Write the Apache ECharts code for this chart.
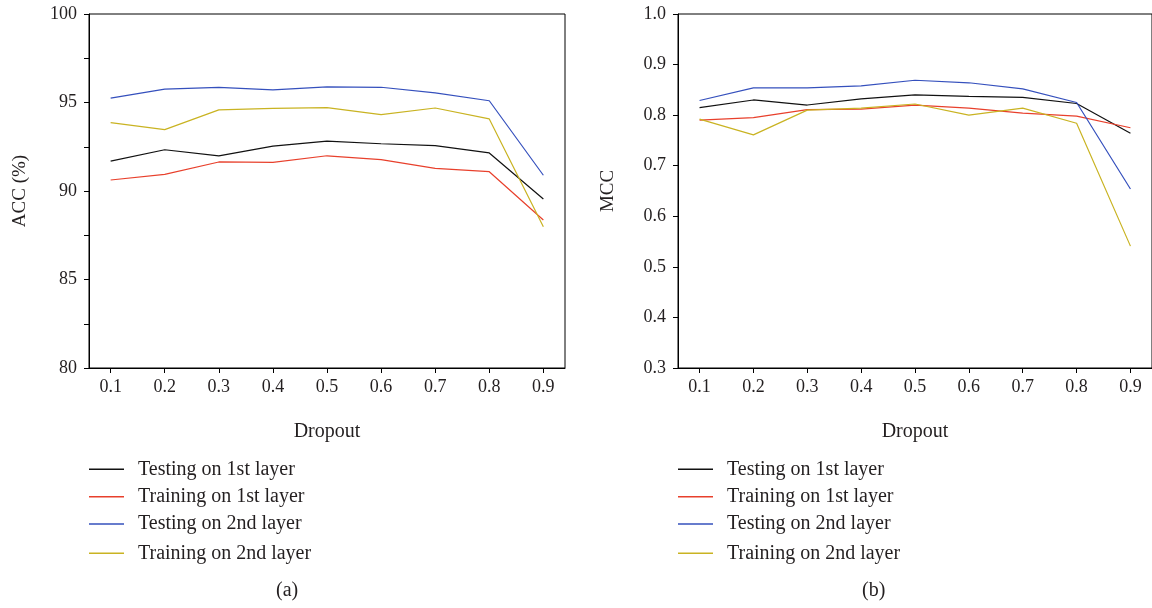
<!DOCTYPE html>
<html>
<head>
<meta charset="utf-8">
<script src="https://cdn.jsdelivr.net/npm/echarts@6/dist/echarts.min.js"></script>
<style>html,body{margin:0;padding:0;background:#fff}#c{width:1152px;height:608px}</style>
</head>
<body>
<div id="c"></div>
<script>
const dropout = [0.1, 0.2, 0.3, 0.4, 0.5, 0.6, 0.7, 0.8, 0.9];
const seriesNames = ['Testing on 1st layer', 'Training on 1st layer', 'Testing on 2nd layer', 'Training on 2nd layer'];
const accTest1 = [91.69, 92.33, 91.98, 92.54, 92.82, 92.67, 92.56, 92.15, 89.55];
const accTrain1 = [90.62, 90.94, 91.64, 91.62, 91.99, 91.77, 91.28, 91.09, 88.36];
const accTest2 = [95.25, 95.76, 95.86, 95.71, 95.88, 95.86, 95.54, 95.10, 90.89];
const accTrain2 = [93.86, 93.47, 94.58, 94.67, 94.71, 94.31, 94.69, 94.07, 87.98];
const mccTest1 = [0.815, 0.830, 0.820, 0.832, 0.840, 0.837, 0.835, 0.823, 0.764];
const mccTrain1 = [0.790, 0.795, 0.811, 0.812, 0.820, 0.814, 0.804, 0.798, 0.775];
const mccTest2 = [0.829, 0.854, 0.854, 0.858, 0.869, 0.864, 0.852, 0.825, 0.654];
const mccTrain2 = [0.792, 0.761, 0.810, 0.814, 0.822, 0.800, 0.814, 0.784, 0.541];
const accTicks = [80, 85, 90, 95, 100];
const mccTicks = [0.3, 0.4, 0.5, 0.6, 0.7, 0.8, 0.9, 1.0];

const colors = ['#111111', '#e8402c', '#3550bd', '#c9b322'];
const FONT = 'Liberation Serif';
const TXT = '#231f20';

const pairs = arr => arr.map((v, i) => [dropout[i], v]);

function xAxis(gridIndex) {
  return {
    type: 'value', gridIndex, min: 0.06, max: 0.94,
    name: 'Dropout', nameLocation: 'middle', nameGap: 54,
    nameTextStyle: { fontFamily: FONT, fontSize: 20, color: TXT },
    axisLine: { show: true, lineStyle: { color: '#000', width: 1 } },
    axisTick: { show: true, length: 5, lineStyle: { color: '#000' }, customValues: dropout },
    axisLabel: { fontFamily: FONT, fontSize: 18, color: TXT, margin: 10, customValues: dropout,
      formatter: v => Number(v).toFixed(1) },
    splitLine: { show: false }
  };
}

const legendCenters = [469.3, 496.7, 524, 553.3];
const legends = [];
[84, 673].forEach(left => {
  seriesNames.forEach((n, i) => legends.push({
    orient: 'vertical', left, top: legendCenters[i] - 15, data: [n], icon: 'rect',
    itemWidth: 35, itemHeight: 1.6, selectedMode: false,
    textStyle: { fontFamily: FONT, fontSize: 20, color: TXT, lineHeight: 20, padding: [0, 0, 0, 9] }
  }));
});

const option = {
  animation: false,
  backgroundColor: '#fff',
  grid: [
    { left: 89, top: 14, width: 476, height: 354, show: true, borderColor: '#000', borderWidth: 1 },
    { left: 678, top: 14, width: 477, height: 354, show: true, borderColor: '#000', borderWidth: 1 }
  ],
  xAxis: [xAxis(0), xAxis(1)],
  yAxis: [
    { type: 'value', gridIndex: 0, min: 80, max: 100, interval: 2.5,
      name: 'ACC (%)', nameLocation: 'middle', nameGap: 59, nameRotate: 90,
      nameTextStyle: { fontFamily: FONT, fontSize: 19, color: TXT },
      axisLine: { show: true, lineStyle: { color: '#000' } },
      axisTick: { show: true, length: 5, lineStyle: { color: '#000' } },
      axisLabel: { fontFamily: FONT, fontSize: 18, color: TXT, margin: 12,
        formatter: v => (accTicks.indexOf(Number(v)) >= 0 ? String(v) : '') },
      splitLine: { show: false } },
    { type: 'value', gridIndex: 1, min: 0.3, max: 1.0, interval: 0.1,
      name: 'MCC', nameLocation: 'middle', nameGap: 60, nameRotate: 90,
      nameTextStyle: { fontFamily: FONT, fontSize: 19, color: TXT },
      axisLine: { show: true, lineStyle: { color: '#000' } },
      axisTick: { show: true, length: 5, lineStyle: { color: '#000' } },
      axisLabel: { fontFamily: FONT, fontSize: 18, color: TXT, margin: 12,
        formatter: v => Number(v).toFixed(1) },
      splitLine: { show: false } }
  ],
  legend: legends,
  graphic: [
    { type: 'text', left: 276, top: 581, style: { text: '(a)', font: '20px "Liberation Serif"', fill: TXT } },
    { type: 'text', left: 862, top: 581, style: { text: '(b)', font: '20px "Liberation Serif"', fill: TXT } }
  ],
  series: []
};

const accData = [accTest1, accTrain1, accTest2, accTrain2];
const mccData = [mccTest1, mccTrain1, mccTest2, mccTrain2];
accData.forEach((d, i) => option.series.push({
  name: seriesNames[i], type: 'line', xAxisIndex: 0, yAxisIndex: 0, data: pairs(d),
  symbol: 'none', lineStyle: { color: colors[i], width: 1.2 }, itemStyle: { color: colors[i] }
}));
mccData.forEach((d, i) => option.series.push({
  name: seriesNames[i], type: 'line', xAxisIndex: 1, yAxisIndex: 1, data: pairs(d),
  symbol: 'none', lineStyle: { color: colors[i], width: 1.2 }, itemStyle: { color: colors[i] }
}));

const chart = echarts.init(document.getElementById('c'), null, { renderer: 'canvas' });
chart.setOption(option);
</script>
</body>
</html>
